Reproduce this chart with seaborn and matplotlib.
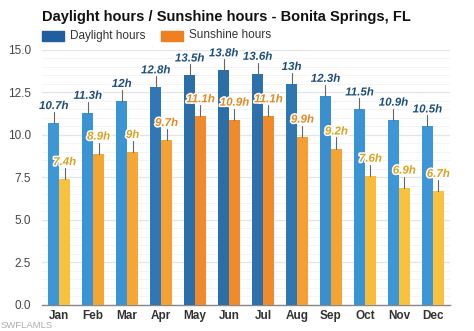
import matplotlib
matplotlib.use("Agg")
import matplotlib.pyplot as plt
import matplotlib.patheffects as pe
import seaborn as sns
import pandas as pd
import numpy as np

months = ["Jan", "Feb", "Mar", "Apr", "May", "Jun", "Jul", "Aug", "Sep", "Oct", "Nov", "Dec"]
daylight = [10.7, 11.3, 12.0, 12.8, 13.5, 13.8, 13.6, 13.0, 12.3, 11.5, 10.9, 10.5]
sunshine = [7.4, 8.9, 9.0, 9.7, 11.1, 10.9, 11.1, 9.9, 9.2, 7.6, 6.9, 6.7]
daylight_labels = ["10.7h", "11.3h", "12h", "12.8h", "13.5h", "13.8h", "13.6h", "13h", "12.3h", "11.5h", "10.9h", "10.5h"]
sunshine_labels = ["7.4h", "8.9h", "9h", "9.7h", "11.1h", "10.9h", "11.1h", "9.9h", "9.2h", "7.6h", "6.9h", "6.7h"]
series_names = ["Daylight hours", "Sunshine hours"]

daylight_colors = ["#3d97d6", "#3a94d3", "#3a93d2", "#2f78b5", "#2b6ea8", "#2b6ea8",
                   "#2d70ab", "#2f77b1", "#3a8fcf", "#3a93d2", "#3d97d6", "#3d97d6"]
sunshine_colors = ["#f9c23c", "#f5a532", "#f5a633", "#f5a032", "#f18a2a", "#f18a2a",
                   "#f18a2a", "#f59f32", "#f5a332", "#f7bd3a", "#f9c23c", "#f9c23c"]

df = pd.DataFrame({
    "month": months * 2,
    "hours": daylight + sunshine,
    "series": [series_names[0]] * 12 + [series_names[1]] * 12,
})

sns.set_style("white")
plt.rcParams["font.family"] = ["Liberation Sans", "DejaVu Sans"]

fig = plt.figure(figsize=(4.74, 3.31), dpi=100)
ax = fig.add_axes([0.089, 0.079, 0.860, 0.770])

sns.barplot(data=df, x="month", y="hours", hue="series", order=months,
            hue_order=series_names, palette=["#1f5fa0", "#f07f22"],
            width=0.64, gap=0, errorbar=None, legend=False, ax=ax, zorder=3)

conts = ax.containers
for bars, cols, vals, labs, tcol in [
        (conts[0], daylight_colors, daylight, daylight_labels, "#1c4f7e"),
        (conts[1], sunshine_colors, sunshine, sunshine_labels, None)]:
    for i, bar in enumerate(bars):
        bar.set_facecolor(cols[i])
        bar.set_edgecolor("none")
        cx = bar.get_x() + bar.get_width() / 2
        top = bar.get_height()
        ax.plot([cx, cx], [top, top + 0.65], color="#666666", lw=0.8, zorder=4)
        if tcol is None:
            c = "#e08a22" if vals[i] >= 9.5 else "#d9a322"
        else:
            c = tcol
        ax.text(cx, top + 1.0, labs[i], ha="center", va="center", fontsize=8.3,
                fontweight="bold", fontstyle="italic", color=c, zorder=5,
                path_effects=[pe.withStroke(linewidth=2.2, foreground="white")])

ax.set_xlim(-0.5, 11.5)
ax.set_ylim(0, 15)
ax.set_yticks([0, 2.5, 5, 7.5, 10, 12.5, 15])
ax.set_yticklabels(["0.0", "2.5", "5.0", "7.5", "10.0", "12.5", "15.0"])
ax.set_yticks(np.arange(0, 15.01, 0.5), minor=True)
ax.grid(axis="y", which="major", color="#e4e4e4", lw=0.9, zorder=0)
ax.grid(axis="y", which="minor", color="#f3f3f3", lw=0.6, zorder=0)
ax.set_axisbelow(True)
ax.set_xlabel("")
ax.set_ylabel("")
for s in ["left", "right", "top"]:
    ax.spines[s].set_visible(False)
ax.spines["bottom"].set_color("#888888")
ax.spines["bottom"].set_linewidth(1.0)
ax.tick_params(axis="y", labelsize=8.5, colors="#444444", length=0, pad=8)
ax.tick_params(axis="x", labelsize=8.5, colors="#333333", length=0, pad=4)
for t in ax.get_xticklabels():
    t.set_fontweight("bold")

fig.text(0.089, 0.948, "Daylight hours / Sunshine hours - Bonita Springs, FL",
         fontsize=10.5, fontweight="bold", color="#111111", va="center", ha="left")

from matplotlib.patches import Rectangle
for x0, col, lab in [(42, "#1f5fa0", series_names[0]), (161, "#f07f22", series_names[1])]:
    fig.patches.append(Rectangle((x0 / 474, 1 - 41 / 331), 22 / 474, 10 / 331,
                                 transform=fig.transFigure, color=col, figure=fig))
    fig.text((x0 + 28) / 474, 1 - 35.5 / 331, lab, fontsize=8.5, color="#333333",
             va="center", ha="left")

fig.text(1 / 474, 0.004, "SWFLAMLS", fontsize=6.8, color="#888888",
         alpha=0.7, va="bottom", ha="left")

fig.savefig("out.png", dpi=100)
